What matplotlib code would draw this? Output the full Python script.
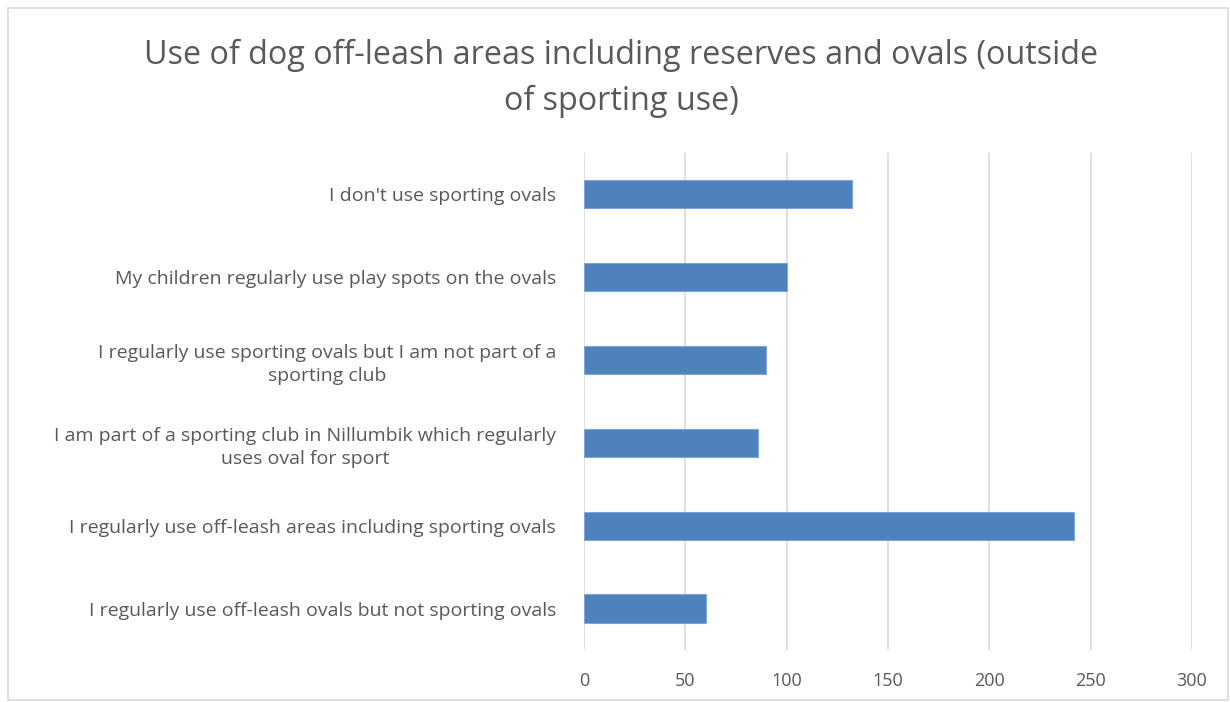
import matplotlib
matplotlib.use("Agg")
import matplotlib.pyplot as plt
from matplotlib.patches import Rectangle

categories = [
    "I don't use sporting ovals",
    "My children regularly use play spots on the ovals",
    "I regularly use sporting ovals but I am not part of a\nsporting club",
    "I am part of a sporting club in Nillumbik which regularly\nuses oval for sport",
    "I regularly use off-leash areas including sporting ovals",
    "I regularly use off-leash ovals but not sporting ovals",
]
values = [132, 100, 90, 86, 242, 60]
xticks = [0, 50, 100, 150, 200, 250, 300]
title = "Use of dog off-leash areas including reserves and ovals (outside\nof sporting use)"

W, H = 1230, 702
fig = plt.figure(figsize=(W / 100, H / 100), dpi=100)
fig.patch.set_facecolor("white")
fig.add_artist(Rectangle((8 / W, 2 / H), (W - 10) / W, (H - 10) / H,
                         transform=fig.transFigure, fill=False,
                         edgecolor="#d9d9d9", linewidth=1.2))

ax = fig.add_axes([584 / W, 1 - 650 / H, (1192 - 584) / W, (650 - 152.6) / H])
ypos = list(range(len(categories)))
ax.barh(ypos, values, height=0.34, color="#4f81bd", edgecolor="#7ea6d8", linewidth=0.8, zorder=3)
ax.set_ylim(len(categories) - 0.5, -0.5)
ax.set_xlim(0, 300)
ax.set_xticks(xticks)
ax.set_xticklabels([str(t) for t in xticks])
ax.set_yticks(ypos)
ax.set_yticklabels(categories, multialignment="center", linespacing=1.4)
ax.grid(axis="x", color="#d9d9d9", linewidth=1.2, zorder=0)
for s in ax.spines.values():
    s.set_visible(False)
ax.tick_params(axis="both", length=0, colors="#595959")
ax.tick_params(axis="y", pad=20, labelsize=14)
ax.tick_params(axis="x", pad=16, labelsize=13)
fam = ["Open Sans", "DejaVu Sans"]
for lab in ax.get_xticklabels() + ax.get_yticklabels():
    lab.set_family(fam)
    lab.set_color("#595959")

fig.text(621 / W, 1 - 78 / H, title, ha="center", va="center", fontsize=23.3,
         color="#595959", family=fam, linespacing=1.5)

fig.savefig("out.png", dpi=100)
